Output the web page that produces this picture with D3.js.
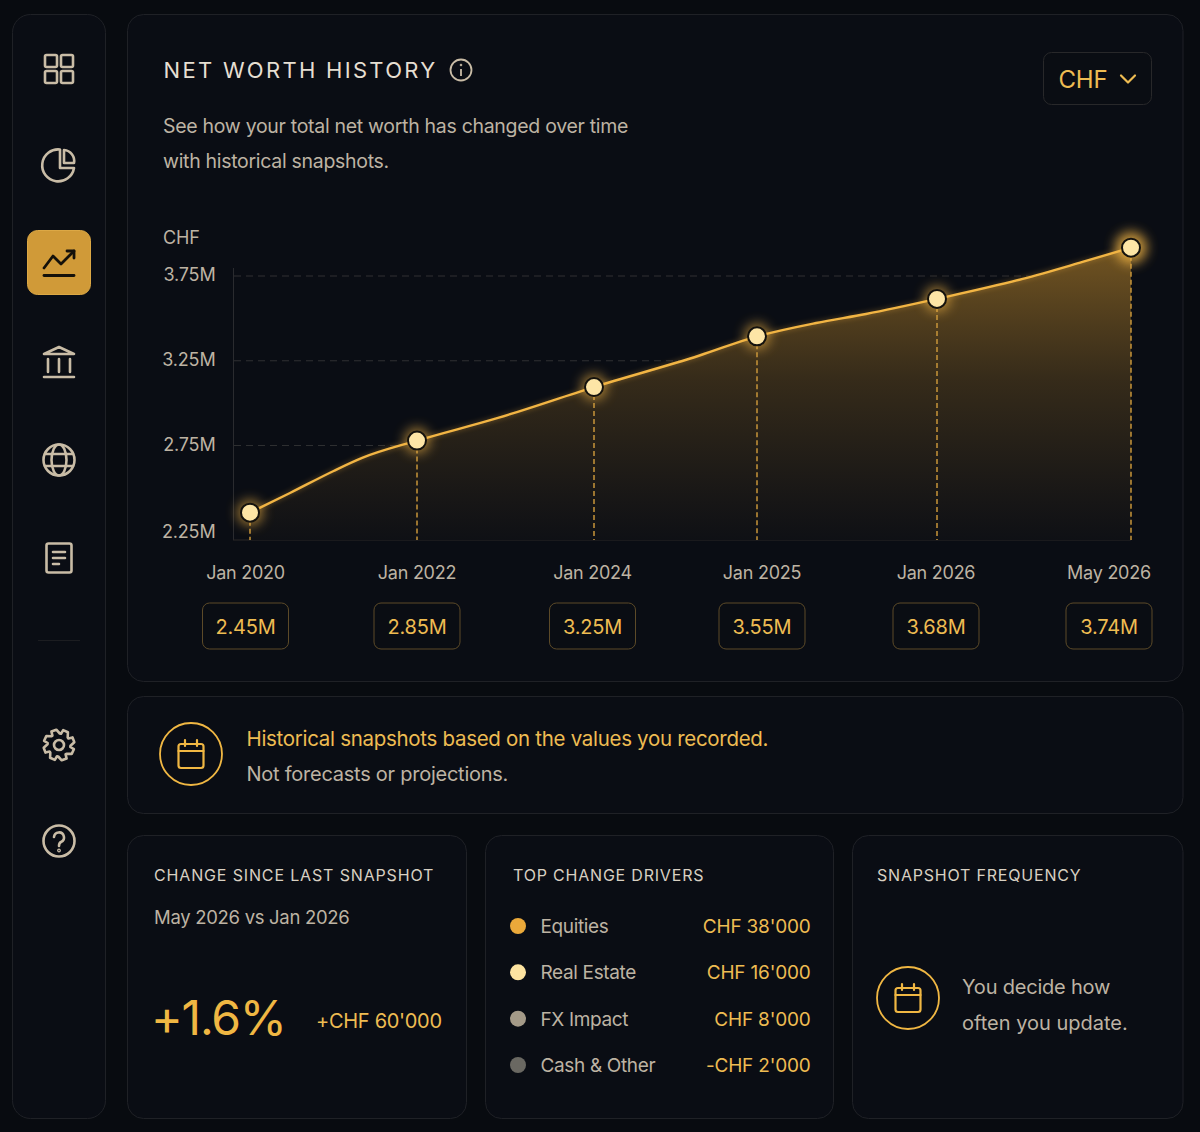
<!DOCTYPE html>
<html><head><meta charset="utf-8">
<script src="https://cdnjs.cloudflare.com/ajax/libs/d3/7.8.5/d3.min.js"></script>
<style>html,body{margin:0;padding:0;background:#080b10}svg{display:block}text{font-family:Inter,"Noto Sans",sans-serif}</style>
</head><body><div id="c"></div>
<script>
// ---- data ----
const snapshotDates = ["2020-01-01","2022-01-01","2024-01-01","2025-01-01","2026-01-01","2026-05-01"];
const snapshotLabels = ["Jan 2020","Jan 2022","Jan 2024","Jan 2025","Jan 2026","May 2026"];
const snapshotChips = ["2.45M","2.85M","3.25M","3.55M","3.68M","3.74M"];
const snapshotValues = [2.354,2.779,3.095,3.394,3.615,3.917];
const curveDates = ["2020-01-01","2020-06-24","2021-01-01","2021-05-06","2022-01-01","2022-12-01","2024-01-01","2024-08-25","2025-01-01","2025-05-01","2025-08-10","2026-01-01","2026-02-23","2026-04-01","2026-05-01"];
const curveValues = [2.354,2.470,2.600,2.677,2.779,2.913,3.095,3.281,3.394,3.473,3.526,3.615,3.733,3.833,3.917];
const yTicks = [2.25,2.75,3.25,3.75];
const driverNames = ["Equities","Real Estate","FX Impact","Cash & Other"];
const driverAmounts = ["CHF 38'000","CHF 16'000","CHF 8'000","-CHF 2'000"];
const driverColors = ["#eba93a","#fde3a0","#a49a88","#6a6862"];

const gold="#f0b743", goldT="#eebc52", muted="#bdb3a3", light="#d8d0c2", iconC="#c9bca6", border="#1f2126", cardC="#0a0d14";
const svg=d3.select("#c").append("svg").attr("width",1200).attr("height",1132);
const defs=svg.append("defs");
const grad=defs.append("linearGradient").attr("id","ag").attr("gradientUnits","userSpaceOnUse").attr("x1",0).attr("x2",0).attr("y1",248).attr("y2",540);
grad.append("stop").attr("offset",0).attr("stop-color","#d2962e").attr("stop-opacity",.52);
grad.append("stop").attr("offset",.45).attr("stop-color","#c08a2c").attr("stop-opacity",.24);
grad.append("stop").attr("offset",1).attr("stop-color","#a87a2c").attr("stop-opacity",.03);
const blur=(id,s)=>defs.append("filter").attr("id",id).attr("x","-150%").attr("y","-150%").attr("width","400%").attr("height","400%").append("feGaussianBlur").attr("stdDeviation",s);
blur("g1",6);
const lg=defs.append("filter").attr("id","g2").attr("x","-5%").attr("y","-20%").attr("width","110%").attr("height","140%");lg.append("feGaussianBlur").attr("stdDeviation",2.5);

svg.append("rect").attr("width",1200).attr("height",1132).attr("fill","#080b10");
const card=(x,y,w,h,r)=>svg.append("rect").attr("x",x+.5).attr("y",y+.5).attr("width",w).attr("height",h).attr("rx",r).attr("fill",cardC).attr("stroke",border).attr("stroke-width",1);
card(12,14,93,1104,18);card(127,14,1055.5,667,16);card(127,696,1055.5,117,16);card(127,835,339,283,16);card(485,835,348,283,16);card(852,835,330.5,283,16);

const txt=(s,x,y,size,fill,opt={})=>{const t=svg.append("text").attr("x",x).attr("y",y).attr("font-size",size).attr("fill",fill).text(s);
  if(opt.ls)t.attr("letter-spacing",opt.ls);if(opt.anchor)t.attr("text-anchor",opt.anchor);if(opt.w)t.attr("font-weight",opt.w);return t;};

// ---- header ----
txt("NET WORTH HISTORY",163.5,78,22,"#e6dfd2",{ls:2.3});
const info=svg.append("g").attr("transform","translate(461,70)").attr("fill","none").attr("stroke",iconC).attr("stroke-width",1.8);
info.append("circle").attr("r",10.5);
info.append("path").attr("d","M0,-1V6");info.append("circle").attr("cy",-5).attr("r",.9).attr("fill",iconC).attr("stroke-width",.8);
txt("See how your total net worth has changed over time",163,132.5,19.5,muted,{ls:-.3});
txt("with historical snapshots.",163,168,19.5,muted,{ls:-.3});
svg.append("rect").attr("x",1043.5).attr("y",52.5).attr("width",108).attr("height",52).attr("rx",8).attr("fill","#0a0d13").attr("stroke","#28282a");
txt("CHF",1058.5,87.5,24,goldT,{ls:-.2});
svg.append("path").attr("d","M1121,75.5L1128,82.5L1135,75.5").attr("fill","none").attr("stroke",goldT).attr("stroke-width",2.2).attr("stroke-linecap","round").attr("stroke-linejoin","round");

// ---- chart ----
const parse=d3.utcParse("%Y-%m-%d");
const x=d3.scaleUtc().domain(snapshotDates.map(parse)).range([250,417,594,757,937,1131]);
const y=d3.scaleLinear().domain([2.25,3.75]).range([530.3,276]);
const chipX=d3.scaleOrdinal().domain(snapshotLabels).range([245.5,417,592.5,762,936,1109]);
const baseY=540;
const curve=curveDates.map((d,i)=>({d:parse(d),v:curveValues[i]}));
const snaps=snapshotDates.map((d,i)=>({d:parse(d),v:snapshotValues[i],l:snapshotLabels[i],c:snapshotChips[i]}));
const chart=svg.append("g");
txt("CHF",163,244,18,muted,{ls:-.2});

const axis=d3.axisLeft(y).tickValues(yTicks).tickFormat(d=>d3.format(".2f")(d)+"M").tickSize(0).tickPadding(18);
const ag=chart.append("g").attr("transform","translate(233.5,0)").call(axis);
ag.select(".domain").remove();
ag.selectAll("text").attr("font-size",18).attr("fill",muted).attr("x",-18).attr("text-anchor","end").attr("letter-spacing",-.15)
  .attr("dominant-baseline","middle").attr("dy",d=>d===yTicks[0]?2:0);
chart.selectAll(".grid").data(yTicks.slice(1)).join("line").attr("x1",234).attr("x2",1030).attr("y1",y).attr("y2",y).attr("stroke","#303133").attr("stroke-width",1).attr("stroke-dasharray","7 5");
chart.append("line").attr("x1",233.5).attr("x2",233.5).attr("y1",268).attr("y2",baseY).attr("stroke","#2a2b2f");
chart.append("line").attr("x1",233).attr("x2",1131).attr("y1",baseY).attr("y2",baseY).attr("stroke","#2a2826");

const area=d3.area().x(d=>x(d.d)).y0(baseY).y1(d=>y(d.v)).curve(d3.curveMonotoneX);
const line=d3.line().x(d=>x(d.d)).y(d=>y(d.v)).curve(d3.curveMonotoneX);
chart.append("path").datum(curve).attr("d",area).attr("fill",cardC);
chart.append("path").datum(curve).attr("d",area).attr("fill","url(#ag)");
chart.selectAll(".drop").data(snaps).join("line").attr("x1",d=>x(d.d)).attr("x2",d=>x(d.d)).attr("y1",d=>y(d.v)).attr("y2",baseY).attr("stroke","#c8953a").attr("stroke-width",1.5).attr("stroke-dasharray","5 3");
chart.append("path").datum(curve).attr("d",line).attr("fill","none").attr("stroke","#e8a93a").attr("stroke-width",4).attr("opacity",.28).attr("filter","url(#g2)");
chart.append("path").datum(curve).attr("d",line).attr("fill","none").attr("stroke","#f2b544").attr("stroke-width",2.4);
const pts=chart.selectAll(".pt").data(snaps).join("g").attr("transform",d=>`translate(${x(d.d)},${y(d.v)})`);
pts.append("circle").attr("r",(d,i)=>i==5?16:13).attr("fill","#f3b545").attr("opacity",(d,i)=>i==5?.8:.6).attr("filter","url(#g1)");
pts.append("circle").attr("r",9).attr("fill","#fde5a6").attr("stroke","#14120e").attr("stroke-width",2);

svg.selectAll(".xl").data(snaps).join("text").attr("x",d=>chipX(d.l)).attr("y",579).attr("text-anchor","middle").attr("font-size",18).attr("letter-spacing",-.25).attr("fill",muted).text(d=>d.l);
const chips=svg.selectAll(".chip").data(snaps).join("g").attr("transform",d=>`translate(${chipX(d.l)},626.5)`);
chips.append("rect").attr("x",-43).attr("y",-23.5).attr("width",86).attr("height",46).attr("rx",7).attr("fill","#0a0d13").attr("stroke","#5c4a28");
chips.append("text").attr("text-anchor","middle").attr("y",7.5).attr("font-size",20).attr("letter-spacing",-.2).attr("fill",goldT).text(d=>d.c);

// ---- icons ----
const ic=(tx,ty,c=iconC,w=2.6)=>svg.append("g").attr("transform",`translate(${tx},${ty})`).attr("fill","none").attr("stroke",c).attr("stroke-width",w).attr("stroke-linecap","round").attr("stroke-linejoin","round");
const g1=ic(59,69);[[-14,-14],[2,-14],[-14,2],[2,2]].forEach(p=>g1.append("rect").attr("x",p[0]).attr("y",p[1]).attr("width",12).attr("height",12).attr("rx",1.5));
const g2=ic(59,165);g2.append("path").attr("d","M1,-15.5A16,16 0 1 0 15,3H1Z");g2.append("path").attr("d","M5,-15A11,11 0 0 1 15,-2H5Z");
svg.append("rect").attr("x",27.5).attr("y",230.5).attr("width",63).attr("height",64).attr("rx",10).attr("fill","#d09a38").attr("stroke","#dca845");
const g3=ic(59,262,"#14110a",2.8);g3.append("path").attr("d","M-15,6L-6,-6L2,2L15,-11");g3.append("path").attr("d","M8,-11H15V-4");g3.append("path").attr("d","M-15,13.5H15");
const g4=ic(59,362);g4.append("path").attr("d","M-15,-8L0,-15L15,-8Z");g4.append("path").attr("d","M-11,-3V10M0,-3V10M11,-3V10M-15,15H15");
const g5=ic(59,460);g5.append("circle").attr("r",15.5);g5.append("ellipse").attr("rx",7.5).attr("ry",15.5);g5.append("path").attr("d","M-14,-6H14M-14,6H14");
const g6=ic(59,558);g6.append("rect").attr("x",-12.5).attr("y",-14.5).attr("width",25).attr("height",29).attr("rx",2);g6.append("path").attr("d","M-6,-6H6M-6,0H6M-6,6H0");
svg.append("line").attr("x1",38).attr("x2",80).attr("y1",640.5).attr("y2",640.5).attr("stroke","#1c1d21");
const g7=ic(59,745);
g7.append("path").attr("d",d3.range(8).map(i=>{const a=i*Math.PI/4-Math.PI/8,b=Math.PI/8*.55;const p=(r,t)=>`${(r*Math.cos(t)).toFixed(1)},${(r*Math.sin(t)).toFixed(1)}`;return `${i?"L":"M"}${p(11.5,a-b)}L${p(15.5,a-b*.55)}L${p(15.5,a+b*.55+.1)}L${p(11.5,a+b+.25)}`}).join("")+"Z");
g7.append("circle").attr("r",5);
const g8=ic(59,841);g8.append("circle").attr("r",15.5);g8.append("path").attr("d","M-5,-4A5,5 0 1 1 2,1C0,2 0,3 0,5");g8.append("circle").attr("cy",9.5).attr("r",.6);
const cal=(cx,cy,R)=>{const g=ic(cx,cy,gold,2);g.append("circle").attr("r",R).attr("stroke-width",1.8);const h=ic(cx,cy,gold,2.2);h.append("rect").attr("x",-12.5).attr("y",-10).attr("width",25).attr("height",24).attr("rx",2.5);h.append("path").attr("d","M-12.5,-3H12.5M-6,-14V-8M6,-14V-8");};

// ---- banner ----
cal(191,754,31);
txt("Historical snapshots based on the values you recorded.",246.5,746,20.5,goldT,{ls:-.3});
txt("Not forecasts or projections.",246.5,781,20,muted,{ls:-.25});

// ---- bottom cards ----
txt("CHANGE SINCE LAST SNAPSHOT",154,881,16,light,{ls:.85});
txt("May 2026 vs Jan 2026",154,924,18.5,muted,{ls:-.3});
txt("+1.6%",151,1035,48,gold,{ls:-1.2});
txt("+CHF 60'000",316,1028,20,goldT,{ls:-.3});
txt("TOP CHANGE DRIVERS",513,881,16,light,{ls:.8});
const rowY=d3.scalePoint().domain(driverNames).range([926,1065]);
const rows=svg.selectAll(".drv").data(driverNames).join("g").attr("transform",d=>`translate(0,${rowY(d)})`);
rows.append("circle").attr("cx",518).attr("r",8).attr("fill",(d,i)=>driverColors[i]);
rows.append("text").attr("x",540.5).attr("y",7).attr("font-size",19).attr("letter-spacing",-.35).attr("fill",muted).text(d=>d);
rows.append("text").attr("x",810.5).attr("y",7).attr("text-anchor","end").attr("font-size",19).attr("letter-spacing",-.2).attr("fill",goldT).text((d,i)=>driverAmounts[i]);
txt("SNAPSHOT FREQUENCY",877,881,16,light,{ls:.8});
cal(908,998,31);
txt("You decide how",962,994,20,muted,{ls:-.2});
txt("often you update.",962,1029.5,20,muted);
</script></body></html>
